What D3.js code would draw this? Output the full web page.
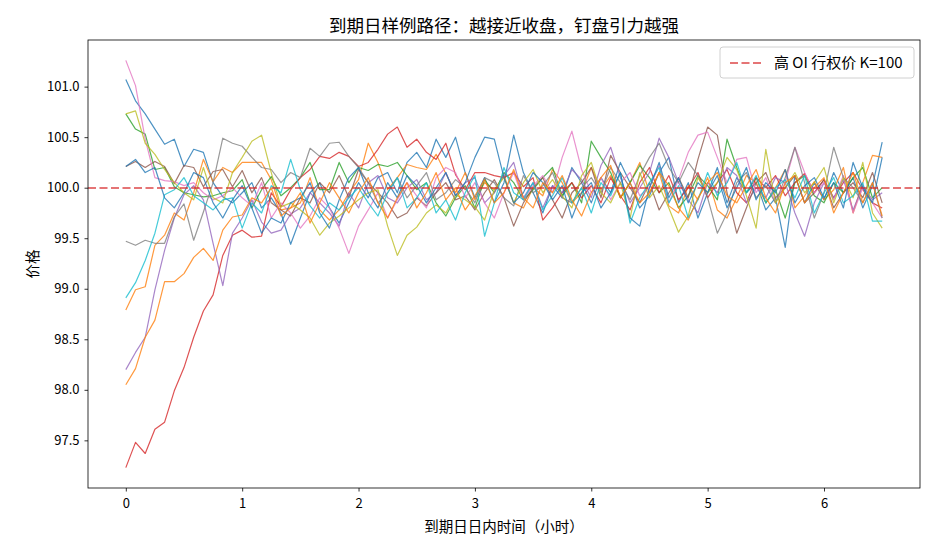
<!DOCTYPE html>
<html>
<head>
<meta charset="utf-8">
<script src="https://cdn.jsdelivr.net/npm/d3@7"></script>
<style>
  body { margin: 0; background: #fff; }
  svg text { font-family: "Noto Sans CJK SC", "Noto Sans", sans-serif; fill: #000; }
</style>
</head>
<body>
<div id="master"></div>
<script>
// 5-minute steps over 6.5 hours
let steps = d3.range(79).map(i => i / 12)

let colors = ["#1f77b4", "#ff7f0e", "#2ca02c", "#d62728", "#9467bd", "#8c564b", "#e377c2", "#7f7f7f", "#bcbd22", "#17becf", "#1f77b4", "#ff7f0e"]

let pathBlue = [
  101.07, 100.86, 100.73, 100.58, 100.43, 100.48, 100.21, 100.38, 100.35, 100.05, 99.91, 99.85,
  99.95, 100.05, 99.80, 99.90, 99.75, 99.44, 99.70, 99.95, 100.05, 99.80, 99.65, 99.85,
  100.05, 99.90, 100.10, 100.15, 99.95, 100.25, 100.35, 100.20, 100.48, 100.30, 100.50, 100.15,
  99.90, 100.10, 99.85, 100.05, 100.52, 100.15, 99.95, 99.75, 100.02, 99.90, 100.20, 100.05,
  99.85, 100.10, 99.95, 100.25, 100.05, 99.80, 99.92, 100.15, 100.30, 99.85, 100.05, 99.70,
  99.95, 100.20, 99.85, 100.10, 99.95, 100.05, 99.78, 99.90, 99.41, 100.12, 99.85, 100.05,
  99.88, 100.15, 99.95, 100.10, 99.80, 100.02, 100.45]
let pathOrange = [
  98.79, 98.99, 99.02, 99.43, 99.53, 99.75, 99.68, 99.95, 100.28, 100.06, 100.20, 100.15,
  100.25, 100.25, 100.25, 100.08, 99.78, 99.80, 99.85, 100.10, 99.78, 99.68, 99.78, 99.95,
  100.08, 100.44, 100.25, 99.98, 100.10, 100.23, 100.20, 100.18, 100.33, 100.14, 99.95, 100.15,
  99.88, 100.05, 99.98, 100.12, 99.85, 99.80, 100.00, 99.92, 100.18, 100.05, 99.85, 99.95,
  100.20, 99.98, 100.12, 99.90, 100.05, 100.25, 99.95, 100.15, 99.82, 99.75, 100.02, 99.88,
  100.10, 99.78, 99.70, 99.90, 100.12, 100.05, 99.85, 100.00, 100.18, 99.80, 99.92, 100.06,
  99.88, 99.98, 100.20, 99.75, 100.05, 100.32, 100.30]
let pathGreen = [
  100.73, 100.58, 100.53, 100.18, 100.20, 100.01, 99.95, 99.93, 99.91, 99.92, 99.95, 99.97,
  100.08, 99.80, 99.98, 100.11, 99.92, 100.00, 100.10, 100.25, 99.98, 99.98, 100.25, 100.05,
  100.20, 100.17, 100.23, 100.21, 100.25, 100.12, 99.98, 100.05, 99.85, 99.72, 99.90, 100.02,
  99.80, 100.08, 99.95, 100.15, 100.05, 99.88, 99.98, 100.10, 100.20, 99.92, 100.05, 99.85,
  100.46, 100.30, 100.15, 99.90, 100.05, 100.22, 100.10, 99.95, 100.05, 99.80, 99.92, 100.12,
  100.02, 99.88, 100.48, 100.20, 99.95, 100.10, 99.85, 99.98, 99.70, 100.05, 100.12, 99.92,
  99.85, 100.05, 99.95, 100.10, 100.20, 99.90, 100.00]
let pathRed = [
  97.23, 97.48, 97.37, 97.61, 97.68, 97.99, 98.22, 98.52, 98.78, 98.94, 99.33, 99.53,
  99.58, 99.51, 99.52, 99.95, 99.81, 99.98, 100.10, 100.18, 100.31, 100.29, 100.35, 100.31,
  100.21, 100.25, 100.38, 100.53, 100.60, 100.40, 100.48, 100.35, 100.28, 100.44, 100.13, 99.98,
  100.15, 100.15, 100.12, 100.10, 100.15, 100.01, 100.10, 99.68, 99.80, 99.95, 100.05, 99.90,
  100.02, 99.85, 100.10, 99.92, 99.78, 100.05, 100.20, 99.95, 100.12, 99.88, 100.00, 100.15,
  99.90, 100.05, 100.18, 99.95, 99.85, 100.10, 100.00, 100.12, 99.92, 100.05, 100.14, 99.95,
  100.08, 99.90, 100.05, 100.15, 99.98, 99.85, 99.80]
let pathPurple = [
  98.20, 98.37, 98.52, 98.99, 99.38, 99.70, 99.93, 100.02, 99.88, 99.45, 99.03, 99.55,
  99.70, 99.88, 99.66, 99.55, 99.58, 99.74, 99.80, 99.95, 99.85, 99.75, 99.62, 99.95,
  99.80, 100.05, 100.12, 99.90, 99.85, 100.00, 100.08, 99.88, 99.95, 100.15, 99.92, 100.05,
  100.10, 99.85, 99.95, 100.12, 100.25, 99.90, 100.05, 99.80, 100.02, 99.95, 100.18, 100.08,
  99.90, 100.22, 100.40, 100.10, 99.85, 100.00, 100.15, 100.49, 100.30, 100.05, 99.88, 99.75,
  100.05, 99.95, 100.20, 100.12, 99.85, 100.00, 99.90, 100.10, 100.05, 99.75, 99.52, 99.85,
  100.05, 99.90, 100.08, 99.78, 100.02, 99.88, 99.95]
let pathBrown = [
  100.21, 100.26, 100.20, 100.26, 100.21, 100.04, 100.22, 100.20, 100.01, 100.16, 100.18, 100.01,
  100.17, 99.95, 100.10, 99.85, 99.78, 99.72, 99.90, 99.85, 100.05, 99.95, 100.12, 99.90,
  100.18, 100.05, 99.95, 99.85, 99.70, 99.75, 99.90, 99.82, 99.95, 100.05, 99.88, 99.92,
  99.78, 99.95, 100.08, 99.90, 99.62, 99.85, 100.00, 100.10, 99.88, 99.70, 99.95, 100.05,
  100.20, 99.90, 100.32, 100.15, 100.00, 99.85, 100.05, 99.78, 99.95, 100.10, 99.90, 100.28,
  100.60, 100.52, 99.95, 99.55, 99.80, 100.05, 100.15, 99.90, 100.00, 100.12, 99.85, 99.95,
  100.08, 99.80, 99.95, 100.05, 99.90, 100.15, 99.85]
let pathPink = [
  101.26, 101.01, 100.48, 100.10, 100.07, 100.06, 100.02, 100.05, 99.95, 99.88, 99.92, 100.00,
  99.90, 99.82, 100.05, 99.70, 99.85, 99.75, 99.60, 99.72, 99.90, 99.80, 99.60, 99.35,
  99.62, 99.78, 99.95, 99.70, 99.88, 100.05, 99.92, 99.80, 100.10, 100.20, 100.15, 99.90,
  100.05, 99.85, 99.70, 99.95, 100.15, 99.88, 100.02, 100.12, 99.95, 100.30, 100.56, 100.18,
  99.95, 100.10, 99.88, 100.05, 100.15, 99.92, 100.00, 100.22, 99.85, 100.08, 100.35, 100.52,
  100.55, 100.30, 100.05, 100.28, 100.30, 99.95, 100.10, 99.85, 100.05, 100.40, 100.15, 99.95,
  100.05, 99.88, 100.12, 99.75, 100.00, 99.85, 99.70]
let pathGray = [
  99.47, 99.43, 99.48, 99.45, 99.45, 99.71, 99.84, 99.48, 99.76, 100.05, 100.49, 100.44,
  100.41, 100.30, 100.20, 100.18, 100.05, 100.15, 100.10, 100.39, 100.31, 100.44, 100.45, 100.31,
  100.20, 100.05, 99.85, 99.95, 100.10, 99.90, 100.02, 100.15, 99.88, 99.95, 100.08, 100.00,
  99.85, 100.10, 100.05, 99.90, 99.82, 100.12, 99.95, 100.02, 100.15, 99.90, 99.85, 100.00,
  100.10, 99.95, 100.20, 100.05, 99.88, 100.12, 100.30, 100.44, 100.20, 100.05, 100.25, 100.12,
  99.90, 99.55, 99.75, 100.05, 100.15, 99.90, 100.02, 99.85, 100.10, 100.40, 100.05, 99.70,
  99.95, 100.40, 100.10, 100.00, 99.85, 100.05, 99.70]
let pathOlive = [
  100.73, 100.76, 100.44, 100.33, 100.18, 100.05, 99.95, 99.88, 100.20, 99.90, 99.85, 100.15,
  100.30, 100.46, 100.52, 100.15, 99.81, 99.85, 99.78, 99.70, 99.53, 99.65, 99.72, 99.80,
  99.88, 99.95, 99.98, 99.62, 99.33, 99.53, 99.61, 99.75, 99.83, 99.75, 99.93, 99.88,
  99.81, 99.68, 99.98, 100.10, 99.85, 100.05, 100.18, 99.95, 100.08, 99.92, 99.80, 100.12,
  100.25, 99.95, 99.85, 100.05, 99.70, 100.15, 99.90, 100.02, 99.80, 99.56, 99.72, 100.10,
  99.95, 100.05, 100.30, 100.18, 99.92, 99.60, 100.38, 99.85, 100.00, 100.15, 99.95, 100.05,
  100.20, 99.85, 100.10, 99.90, 100.25, 99.75, 99.60]
let pathCyan = [
  98.91, 99.06, 99.28, 99.55, 99.93, 99.98, 100.10, 99.92, 99.85, 99.78, 99.88, 99.90,
  99.60, 99.85, 99.75, 100.02, 99.95, 100.28, 99.98, 99.82, 99.70, 99.85, 99.78, 99.90,
  100.00, 99.85, 99.72, 99.95, 100.10, 99.80, 99.90, 100.05, 99.75, 99.88, 99.68, 99.95,
  100.12, 99.52, 99.85, 100.20, 99.95, 99.88, 100.05, 99.78, 99.92, 100.10, 99.85, 100.00,
  99.75, 100.05, 99.92, 100.15, 99.65, 99.90, 100.05, 100.20, 99.85, 100.02, 99.70, 99.88,
  100.15, 99.92, 100.05, 100.25, 99.95, 100.12, 99.85, 100.00, 100.08, 99.90, 100.12, 99.75,
  99.95, 100.10, 99.85, 99.92, 100.05, 99.67, 99.67]
let pathBlue2 = [
  100.21, 100.28, 100.15, 100.20, 99.90, 99.80, 99.95, 100.15, 100.10, 99.85, 99.70, 99.88,
  100.02, 99.80, 99.55, 99.70, 99.65, 99.85, 99.90, 100.05, 99.75, 99.60, 99.88, 100.10,
  100.20, 99.95, 99.80, 100.05, 99.90, 100.12, 100.02, 99.85, 100.00, 100.15, 99.92, 100.05,
  100.30, 100.50, 100.48, 100.10, 99.85, 99.95, 100.15, 100.05, 99.88, 100.02, 99.70, 99.95,
  100.05, 99.80, 99.95, 100.15, 99.70, 99.62, 100.00, 100.25, 99.90, 100.10, 99.85, 100.05,
  99.95, 100.12, 99.80, 100.00, 100.20, 99.88, 100.05, 99.95, 100.18, 99.85, 100.02, 100.10,
  99.90, 100.05, 99.80, 100.25, 100.00, 99.85, 100.30]
let pathOrange2 = [
  98.05, 98.21, 98.52, 98.69, 99.07, 99.07, 99.15, 99.31, 99.40, 99.28, 99.58, 99.71,
  99.73, 99.90, 99.85, 100.00, 99.72, 99.80, 99.95, 99.65, 99.85, 100.05, 99.90, 99.75,
  99.95, 100.10, 99.85, 99.70, 99.90, 100.05, 99.80, 99.95, 100.15, 99.88, 100.00, 99.78,
  99.92, 100.08, 99.85, 99.95, 100.18, 99.90, 99.80, 100.05, 99.95, 100.12, 99.88, 99.72,
  99.95, 100.10, 100.22, 99.90, 100.05, 99.85, 99.95, 100.15, 100.02, 99.80, 99.68, 99.90,
  100.05, 100.15, 99.92, 99.85, 100.02, 100.18, 99.90, 99.75, 100.05, 100.12, 99.85, 100.00,
  100.10, 99.75, 99.95, 100.15, 99.85, 100.05, 99.72]

let paths = [pathBlue, pathOrange, pathGreen, pathRed, pathPurple, pathBrown, pathPink, pathGray, pathOlive, pathCyan, pathBlue2, pathOrange2]

let strike = 100
let xTicks = [0, 1, 2, 3, 4, 5, 6]
let yTicks = [97.5, 98.0, 98.5, 99.0, 99.5, 100.0, 100.5, 101.0]

let w = 935, h = 550
let mLeft = 88, mRight = 920, mTop = 40, mBottom = 488

let svg = d3.select("#master").append("svg").attr("width", w).attr("height", h)

// matplotlib style 5% margins
let xExt = d3.extent(steps)
let xPad = (xExt[1] - xExt[0]) * 0.05
let xScale = d3.scaleLinear().domain([xExt[0] - xPad, xExt[1] + xPad]).range([mLeft, mRight])

let yExt = d3.extent(paths.flat())
let yPad = (yExt[1] - yExt[0]) * 0.05
let yScale = d3.scaleLinear().domain([yExt[0] - yPad, yExt[1] + yPad]).range([mBottom, mTop])

let line = d3.line().x((d, i) => xScale(steps[i])).y(d => yScale(d))

svg.append("g")
  .selectAll("path")
  .data(paths)
  .enter()
  .append("path")
  .attr("d", line)
  .attr("fill", "none")
  .attr("stroke", (d, i) => colors[i])
  .attr("stroke-width", 1.2)
  .attr("stroke-opacity", 0.8)
  .attr("stroke-linejoin", "round")

svg.append("line")
  .attr("x1", mLeft).attr("x2", mRight)
  .attr("y1", Math.round(yScale(strike))).attr("y2", Math.round(yScale(strike)))
  .attr("stroke", "#d62728")
  .attr("stroke-opacity", 0.85)
  .attr("stroke-width", 1.7)
  .attr("stroke-dasharray", "8,3.5")

// axes
let xAxis = d3.axisBottom(xScale).tickValues(xTicks).tickFormat(d3.format("d")).tickSizeOuter(0).tickSize(3.5)
let yAxis = d3.axisLeft(yScale).tickValues(yTicks).tickFormat(d3.format(".1f")).tickSizeOuter(0).tickSize(3.5)

let gx = svg.append("g").attr("transform", "translate(0," + mBottom + ")").call(xAxis)
let gy = svg.append("g").attr("transform", "translate(" + mLeft + ",0)").call(yAxis)
gx.select(".domain").remove()
gy.select(".domain").remove()
gx.selectAll("text").attr("font-size", 13).attr("dy", "1.0em")
gy.selectAll("text").attr("font-size", 13).attr("dx", "-0.15em")
svg.selectAll(".tick line").attr("stroke", "#000").attr("stroke-width", 0.8)

svg.append("rect")
  .attr("x", mLeft).attr("y", mTop)
  .attr("width", mRight - mLeft).attr("height", mBottom - mTop)
  .attr("fill", "none").attr("stroke", "#000").attr("stroke-width", 0.8)

svg.append("text")
  .attr("x", (mLeft + mRight) / 2).attr("y", 32)
  .attr("text-anchor", "middle").attr("font-size", 17.5)
  .text("到期日样例路径：越接近收盘，钉盘引力越强")

svg.append("text")
  .attr("x", (mLeft + mRight) / 2).attr("y", 532)
  .attr("text-anchor", "middle").attr("font-size", 14.5)
  .text("到期日日内时间（小时）")

svg.append("text")
  .attr("transform", "translate(38," + (mTop + mBottom) / 2 + ") rotate(-90)")
  .attr("text-anchor", "middle").attr("font-size", 14.5)
  .text("价格")

// legend
let legend = svg.append("g").attr("transform", "translate(720,47)")
legend.append("rect")
  .attr("width", 194).attr("height", 31).attr("rx", 3)
  .attr("fill", "#fff").attr("fill-opacity", 0.8)
  .attr("stroke", "#d0d0d0").attr("stroke-width", 1)
legend.append("line")
  .attr("x1", 10).attr("x2", 42).attr("y1", 16).attr("y2", 16)
  .attr("stroke", "#d62728").attr("stroke-opacity", 0.85)
  .attr("stroke-width", 1.7).attr("stroke-dasharray", "8,3.5")
legend.append("text")
  .attr("x", 54).attr("y", 21).attr("font-size", 15)
  .text("高 OI 行权价 K=100")
</script>
</body>
</html>
